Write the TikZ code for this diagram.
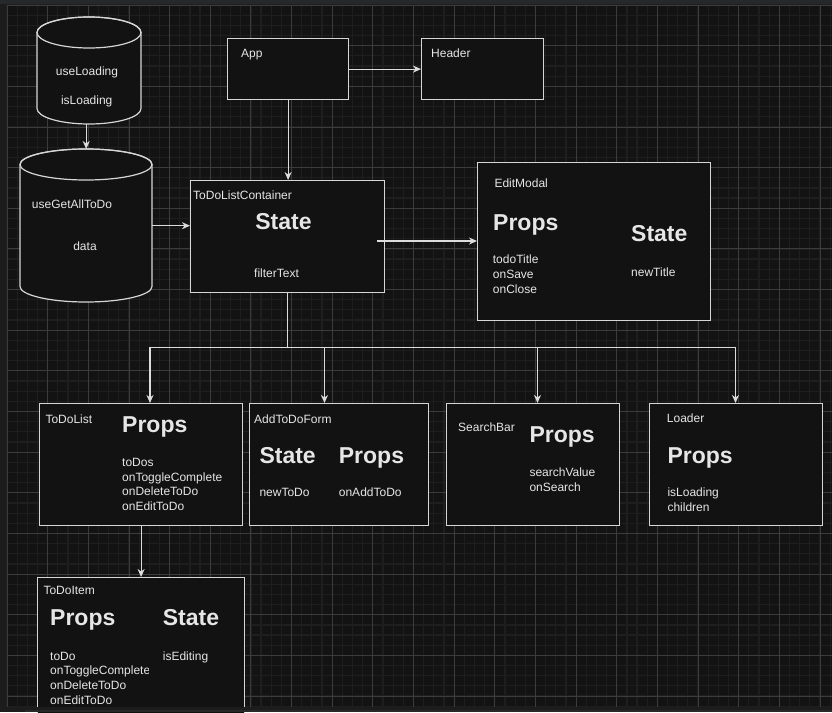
\documentclass[tikz,border=0pt]{standalone}
\usepackage{fontspec}
\setmainfont{Liberation Sans}
\usetikzlibrary{arrows.meta}
\definecolor{outerc}{HTML}{1C1C1C}
\definecolor{stripc}{HTML}{27282A}
\definecolor{bgc}{HTML}{131313}
\definecolor{minorc}{HTML}{1E1E1E}
\definecolor{majorc}{HTML}{3C3C3C}
\definecolor{boxc}{HTML}{121212}
\definecolor{edgec}{HTML}{D6D6D6}
\definecolor{linec}{HTML}{DCDCDC}
\definecolor{txtc}{HTML}{E6E6E6}
\tikzset{
  box/.style={draw=edgec, line width=1.2pt, fill=boxc, inner sep=0pt, anchor=north west},
  hold/.style={inner sep=0pt, anchor=north west},
  arr/.style={draw=linec, line width=1.2pt, -{Stealth[length=8pt,width=7pt,inset=2.5pt]}},
  sm/.style={text=txtc, font=\fontsize{12}{14}\selectfont, inner sep=0pt, anchor=base west},
  smc/.style={sm, anchor=base},
  big/.style={text=txtc, font=\fontsize{23}{27}\selectfont\bfseries, inner sep=0pt, anchor=base west},
  bigc/.style={big, anchor=base},
  minorgrid/.style={draw=minorc, line width=1.2pt},
  majorgrid/.style={draw=majorc, line width=0.9pt},
  cyl/.style={draw=edgec, line width=1.2pt, fill=boxc}
}
\begin{document}
\begin{tikzpicture}[x=1pt,y=-1pt]
\useasboundingbox (0,0) rectangle (832,712);
% background and grid
\fill[outerc] (0,0) rectangle (832,712);
\fill[bgc] (7,5) rectangle (832,708);
\foreach \i in {0,...,81} {
  \pgfmathsetmacro\xx{7+10.1625*\i}
  \draw[minorgrid] (\xx,5) -- (\xx,708);
}
\foreach \j in {0,...,69} {
  \pgfmathsetmacro\yy{5+10.1625*\j}
  \draw[minorgrid] (7,\yy) -- (832,\yy);
}
\foreach \i in {0,...,20} {
  \pgfmathsetmacro\xx{7+40.65*\i}
  \draw[majorgrid] (\xx,5) -- (\xx,708);
}
\foreach \j in {0,...,17} {
  \pgfmathsetmacro\yy{5+40.65*\j}
  \draw[majorgrid] (7,\yy) -- (832,\yy);
}
\fill[stripc] (0,0) rectangle (832,4);

% cylinders
\node[hold, minimum width=104pt, minimum height=107pt] (cyl1) at (37,17) {};
\draw[cyl] (37,32.5) -- (37,108.5) arc (180:0:52 and 15.5) -- (141,32.5) arc (0:-180:52 and 15.5) -- cycle;
\draw[draw=edgec, line width=1.2pt] (89,32.5) ellipse (52 and 15.5);
\node[smc] (tul) at (87,75) {useLoading};
\node[smc] (til) at (86.7,104.5) {isLoading};

\node[hold, minimum width=132pt, minimum height=153pt] (cyl2) at (20,149) {};
\draw[cyl] (20,164.5) -- (20,286.5) arc (180:0:66 and 15.5) -- (152,164.5) arc (0:-180:66 and 15.5) -- cycle;
\draw[draw=edgec, line width=1.2pt] (86,164.5) ellipse (66 and 15.5);
\node[smc] (tug) at (72,208.5) {useGetAllToDo};
\node[smc] (tdata) at (85,250) {data};

% boxes
\node[box, minimum width=121pt, minimum height=61pt] (app) at (227,38) {};
\node[sm] (tapp) at (241,57) {App};
\node[box, minimum width=122pt, minimum height=61pt] (header) at (421,38) {};
\node[sm] (theader) at (431,57) {Header};

\node[box, minimum width=194pt, minimum height=112pt] (tlc) at (190,180) {};
\node[sm] (ttlc) at (193,199) {ToDoListContainer};
\node[bigc] (ttlcs) at (283.5,229.3) {State};
\node[smc] (tfilter) at (276.5,277.7) {filterText};

\node[box, minimum width=233pt, minimum height=158pt] (edit) at (477,162) {};
\node[sm] (tedit) at (494.3,187.3) {EditModal};
\node[big] (teditp) at (493,230) {Props};
\node[sm] (te1) at (492.7,263.3) {todoTitle};
\node[sm] (te2) at (492.7,278.3) {onSave};
\node[sm] (te3) at (492.7,293.3) {onClose};
\node[big] (tedits) at (631,241.7) {State};
\node[sm] (te4) at (631,276) {newTitle};

\node[box, minimum width=203pt, minimum height=122pt] (todolist) at (39,403) {};
\node[sm] (ttl) at (45.3,423.3) {ToDoList};
\node[big] (ttlp) at (122,432.7) {Props};
\node[sm] (tl1) at (122,466.7) {toDos};
\node[sm] (tl2) at (122,481.2) {onToggleComplete};
\node[sm] (tl3) at (122,495.7) {onDeleteToDo};
\node[sm] (tl4) at (122,510.2) {onEditToDo};

\node[box, minimum width=179pt, minimum height=122pt] (addform) at (249,403) {};
\node[sm] (taf) at (254,423) {AddToDoForm};
\node[big] (tafs) at (259.3,463.7) {State};
\node[big] (tafp) at (338.7,463.7) {Props};
\node[sm] (ta1) at (259.3,496.7) {newToDo};
\node[sm] (ta2) at (338.7,496.7) {onAddToDo};

\node[box, minimum width=173pt, minimum height=122pt] (search) at (446,403) {};
\node[sm] (tsb) at (458,431.7) {SearchBar};
\node[big] (tsbp) at (529.3,442.7) {Props};
\node[sm] (ts1) at (529.3,476.7) {searchValue};
\node[sm] (ts2) at (529.3,491.3) {onSearch};

\node[box, minimum width=173pt, minimum height=122pt] (loader) at (649,403) {};
\node[sm] (tld) at (666.7,422.7) {Loader};
\node[big] (tldp) at (667.3,463.3) {Props};
\node[sm] (tl5) at (667.3,496.7) {isLoading};
\node[sm] (tl6) at (667.3,511.3) {children};

\node[box, minimum width=207pt, minimum height=150pt] (todoitem) at (37,577) {};
\node[sm] (tti) at (43.3,594.7) {ToDoItem};
\node[big] (ttip) at (50,625.3) {Props};
\node[big] (ttis) at (162.7,625.3) {State};
\node[sm] (ti1) at (50,660) {toDo};
\begin{scope}
  \clip (0,640) rectangle (148,700);
  \node[sm] (ti2) at (50,674.7) {onToggleComplete};
\end{scope}
\node[sm] (ti3) at (50,689.3) {onDeleteToDo};
\node[sm] (ti4) at (50,704) {onEditToDo};
\node[sm] (ti5) at (162.7,660) {isEditing};

% connectors
\draw[arr] (cyl2.north |- cyl1.south) -- (cyl2.north);
\draw[arr] (cyl2.east) -- (cyl2.east -| tlc.west);
\draw[arr] (app.east) -- (header.west);
\draw[arr] (app.south) -- (app.south |- tlc.north);
\coordinate (tlcout) at (377,241);
\draw[arr] (tlcout) -- (tlcout -| edit.west);
\coordinate (bus1) at (150,347.5);
\coordinate (bus2) at (324.5,347.5);
\coordinate (bus3) at (537.5,347.5);
\coordinate (bus4) at (735.5,347.5);
\draw[arr] (tlc.south) |- (bus1) -- (bus1 |- todolist.north);
\draw[arr] (tlc.south) |- (bus2) -- (bus2 |- addform.north);
\draw[arr] (tlc.south) |- (bus3) -- (bus3 |- search.north);
\draw[arr] (tlc.south) |- (bus4) -- (bus4 |- loader.north);
\draw[arr] (todolist.south) -- (todoitem.north);

% bottom strip
\fill[outerc] (0,707) rectangle (832,712);
\fill[stripc] (25,710) rectangle (832,712);
\end{tikzpicture}
\end{document}
